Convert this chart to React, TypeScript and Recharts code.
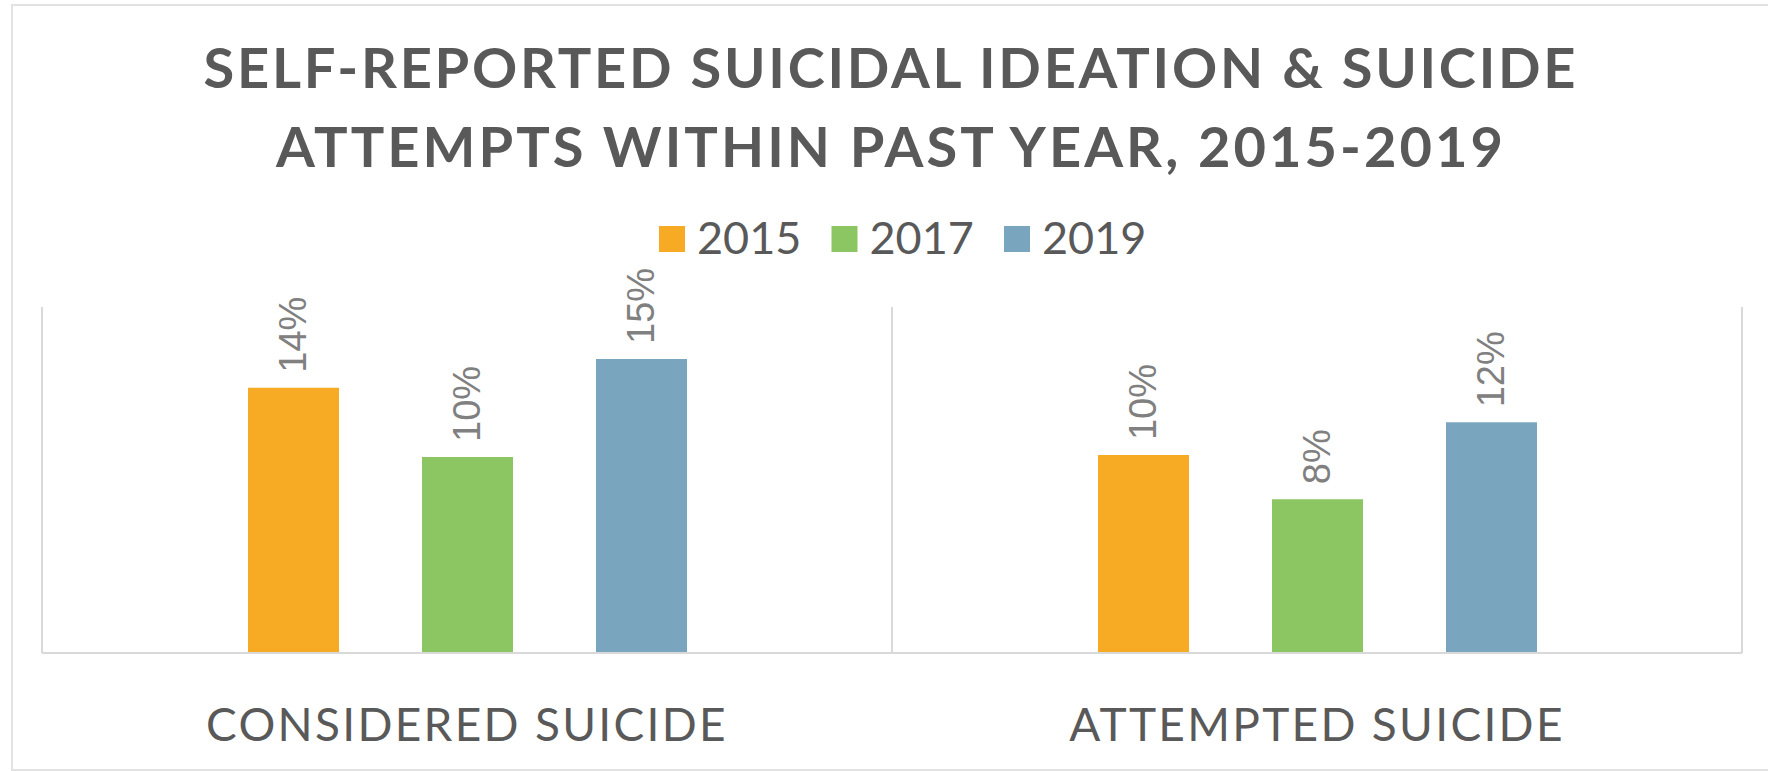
import React from 'react';
import { BarChart, Bar, XAxis, YAxis, CartesianGrid, LabelList } from 'recharts';

const categories = ['CONSIDERED SUICIDE', 'ATTEMPTED SUICIDE'];
const years = ['2015', '2017', '2019'];
const values2015 = [0.138, 0.103];
const values2017 = [0.102, 0.080];
const values2019 = [0.153, 0.120];
const yDomain = [0, 0.18];
const titleLines = ['SELF-REPORTED SUICIDAL IDEATION & SUICIDE', 'ATTEMPTS WITHIN PAST YEAR, 2015-2019'];

const seriesValues = [values2015, values2017, values2019];
const colors = ['#F7AB24', '#8BC663', '#79A6BE'];
const titleWidths = [1372, 1227];
const titleBaselines = [88, 167];

const data = categories.map((c, i) => {
  const row: Record<string, any> = { category: c };
  years.forEach((y, k) => {
    row['y' + y] = seriesValues[k][i];
  });
  return row;
});

const W = 1768;
const H = 771;

const AxisTick = (props: any) => {
  const { x, y, payload } = props;
  return (
    <text
      x={x}
      y={y + 88}
      textAnchor="middle"
      fontFamily="Lato, 'Open Sans', sans-serif"
      fontSize={46}
      fill="#595959"
      letterSpacing={2.3}
    >
      {payload.value}
    </text>
  );
};

const ValueLabel = (props: any) => {
  const { x, y, width, value } = props;
  const cx = x + width / 2;
  const cy = y - 15;
  return (
    <text
      x={cx}
      y={cy}
      transform={`rotate(-90, ${cx}, ${cy})`}
      textAnchor="start"
      dominantBaseline="central"
      fontFamily="'Liberation Sans', Arial, sans-serif"
      fontSize={38}
      fill="#808080"
    >
      {Math.round(value * 100) + '%'}
    </text>
  );
};

export default function App() {
  return (
    <div style={{ position: 'absolute', left: 0, top: 0, width: W, height: H, overflow: 'hidden', background: '#fff' }}>
      <div
        style={{
          position: 'absolute',
          left: 11,
          top: 4,
          width: W,
          height: 767,
          border: '2px solid #e2e2e2',
          boxSizing: 'border-box',
        }}
      />
      <div style={{ position: 'absolute', left: 0, top: 0 }}>
        <BarChart
          width={W}
          height={H}
          data={data}
          margin={{ top: 307, right: 26, bottom: 30, left: 42 }}
          barSize={91}
          barGap={83}
        >
          <CartesianGrid
            horizontal={false}
            stroke="#d9d9d9"
            strokeWidth={2}
            verticalCoordinatesGenerator={({ offset }: any) => [
              offset.left,
              offset.left + offset.width / 2,
              offset.left + offset.width,
            ]}
          />
          <XAxis
            dataKey="category"
            height={88}
            tickSize={0}
            tickMargin={0}
            tickLine={false}
            axisLine={{ stroke: '#d9d9d9', strokeWidth: 2 }}
            tick={<AxisTick />}
            interval={0}
          />
          <YAxis hide domain={yDomain} />
          {years.map((y, k) => (
            <Bar key={y} dataKey={'y' + y} name={y} fill={colors[k]} isAnimationActive={false}>
              <LabelList dataKey={'y' + y} content={<ValueLabel />} />
            </Bar>
          ))}
        </BarChart>
      </div>
      <svg width={W} height={280} style={{ position: 'absolute', left: 0, top: 0 }}>
        {titleLines.map((t, i) => (
          <text
            key={i}
            x={889.5}
            y={titleBaselines[i]}
            textAnchor="middle"
            fontFamily="Lato, 'Open Sans', sans-serif"
            fontWeight={700}
            fontSize={56}
            fill="#595959"
            textLength={titleWidths[i]}
            lengthAdjust="spacing"
          >
            {t}
          </text>
        ))}
        {years.map((y, k) => {
          const x0 = 659 + k * 172.5;
          return (
            <g key={y}>
              <rect x={x0} y={226} width={26} height={26} fill={colors[k]} />
              <text
                x={x0 + 38}
                y={254}
                fontFamily="Lato, 'Open Sans', sans-serif"
                fontSize={45}
                fill="#595959"
              >
                {y}
              </text>
            </g>
          );
        })}
      </svg>
    </div>
  );
}
